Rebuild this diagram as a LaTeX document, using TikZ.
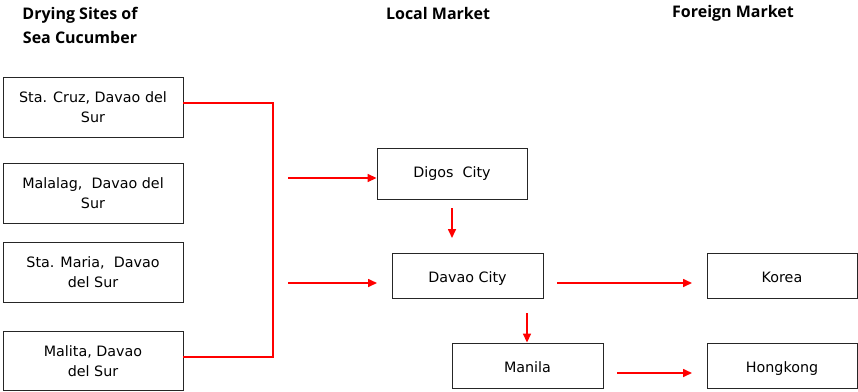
\documentclass[tikz,border=0pt]{standalone}
\usepackage{fontspec}
\setmainfont{DejaVu Sans}
\newfontfamily\headfont{Open Sans}
\usetikzlibrary{arrows.meta}
\begin{document}
\begin{tikzpicture}[x=1pt,y=-1pt,
  box/.style={draw=black!85,line width=0.9pt,inner sep=0pt,align=center,
    font=\fontsize{14.3}{20}\selectfont,text=black},
  onebox/.style={box,text height=13.5pt,text depth=0pt},
  head/.style={font=\headfont\bfseries\fontsize{16}{24}\selectfont,align=center,text=black},
  redline/.style={draw=red,line width=1.6pt},
  redarrow/.style={redline,-{Triangle[length=9pt,width=8pt]}}]
\useasboundingbox (0,0) rectangle (858,391);
% headers
\node[head] (h1) at (80,25) {Drying Sites of\\Sea Cucumber};
\node[head] (h2) at (438,13) {Local Market};
\node[head] (h3) at (733,13) {Foreign Market};
% drying sites
\node[box,minimum width=180pt,minimum height=60pt] (sc) at (93,107) {Sta. Cruz, Davao del\\Sur};
\node[box,minimum width=180pt,minimum height=60pt] (ml) at (93,193) {Malalag,\ \ Davao del\\Sur};
\node[box,minimum width=180pt,minimum height=60pt] (sm) at (93,272) {Sta. Maria,\ \ Davao\\del Sur};
\node[box,minimum width=180pt,minimum height=59pt] (mt) at (93,361) {Malita, Davao\\del Sur};
% local
\node[box,minimum width=150pt,minimum height=51pt] (dg) at (452,173.5) {Digos\ \ City};
\node[onebox,minimum width=151pt,minimum height=45pt] (dv) at (467.5,275.5) {Davao City};
\node[onebox,minimum width=151pt,minimum height=45pt] (mn) at (527.5,365.5) {Manila};
% foreign
\node[onebox,minimum width=150pt,minimum height=45pt] (kr) at (782,275.5) {Korea};
\node[onebox,minimum width=150pt,minimum height=45pt] (hk) at (782,365.5) {Hongkong};
% coordinates
\coordinate (j1) at (273,103);
\coordinate (j2) at (273,357);
\coordinate (a1) at (288,178);
\coordinate (a2) at (288,283);
\coordinate (a2e) at (377,283);
\coordinate (d1) at (452,208);
\coordinate (d1e) at (452,238);
\coordinate (k1) at (557,283);
\coordinate (k1e) at (692,283);
\coordinate (m1) at (527,313);
\coordinate (h1s) at (617,373);
\coordinate (h1e) at (692,373);
% connectors
\draw[redline,line join=miter] (sc.east |- j1) -- (j1) -- (j2) -- (mt.east |- j2);
\draw[redarrow] (a1) -- (a1 -| dg.west);
\draw[redarrow] (a2) -- (a2e);
\draw[redarrow] (d1) -- (d1e);
\draw[redarrow] (k1) -- (k1e);
\draw[redarrow] (m1) -- (m1 |- mn.north);
\draw[redarrow] (h1s) -- (h1e);
\end{tikzpicture}
\end{document}
